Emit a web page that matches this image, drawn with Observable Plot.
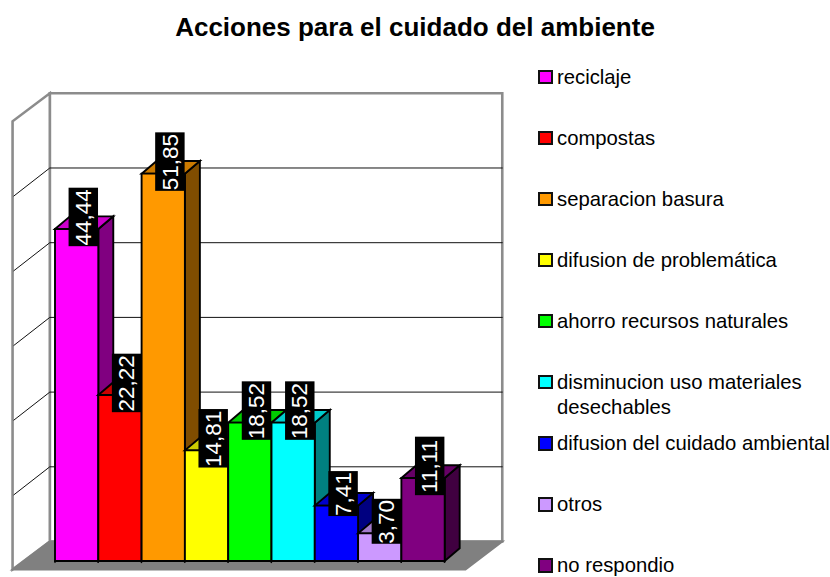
<!DOCTYPE html>
<html lang="es">
<head>
<meta charset="utf-8">
<script src="https://cdn.jsdelivr.net/npm/d3@7"></script>
<script src="https://cdn.jsdelivr.net/npm/@observablehq/plot@0.6"></script>
<style>
  html, body { margin: 0; padding: 0; background: #fff; overflow: hidden; width: 830px; height: 577px; }
  body { position: relative; font-family: "Liberation Sans", Arial, sans-serif; color: #000; }
  #title { position: absolute; left: 0; top: 12px; width: 830px; text-align: center; font-weight: bold; font-size: 26px; line-height: 30px; }
  #chart { position: absolute; left: 0; top: 60px; }
  #chart svg { display: block; }
  #legend { position: absolute; left: 538px; top: 64.5px; width: 292px; font-size: 20.3px; line-height: 25px; }
  .row { display: flex; align-items: flex-start; height: 61.1px; white-space: pre-line; }
  .row i { display: block; flex: none; box-sizing: border-box; width: 14.5px; height: 14.5px; border: 2.4px solid #111; margin: 5px 4.5px 0 0; }
  .row span { white-space: pre; }
</style>
</head>
<body>
<div id="title"></div>
<div id="chart"></div>
<div id="legend"></div>
<script>
const chartTitle = "Acciones para el cuidado del ambiente";
const categories = ["reciclaje", "compostas", "separacion basura", "difusion de problemática", "ahorro recursos naturales", "disminucion uso materiales\ndesechables", "difusion del cuidado ambiental", "otros", "no respondio"];
const values = [44.44, 22.22, 51.85, 14.81, 18.52, 18.52, 7.41, 3.70, 11.11];
const colors = ["#ff00ff", "#ff0000", "#ff9900", "#ffff00", "#00ff00", "#00ffff", "#0000ff", "#cc99ff", "#800080"];
const gridValues = [10, 20, 30, 40, 50];
const axisMax = 60;

// Oblique 3D box: offsets are in scale units (bar slots and percent)
const barDepth = {x: 0.346, y: 1.70};
const wall = {frontLeft: -0.98, backLeft: -0.12, backRight: 10.33, frontRight: 9.48, front: -1.14, back: 2.61};
const shade = (c, k) => { const r = d3.rgb(c); return d3.rgb(r.r * k, r.g * k, r.b * k).formatHex(); };

const polygon = (id, fill, stroke, pts) => pts.map(([x, y]) => ({id, fill, stroke, x, y}));
const wallFaces = [
  ...polygon("back", "#fff", "#8c8c8c", [[wall.backLeft, wall.back], [wall.backRight, wall.back], [wall.backRight, wall.back + axisMax], [wall.backLeft, wall.back + axisMax]]),
  ...polygon("left", "#fff", "#8c8c8c", [[wall.frontLeft, wall.front], [wall.backLeft, wall.back], [wall.backLeft, wall.back + axisMax], [wall.frontLeft, wall.front + axisMax]])
];
const floorFace = polygon("floor", "#808080", "#808080", [[wall.frontLeft, wall.front], [wall.backLeft, wall.back], [wall.backRight, wall.back], [wall.frontRight, wall.front]]);
const gridPaths = gridValues.flatMap(v => [
  {id: v, x: wall.frontLeft + 0.03, y: wall.front + v},
  {id: v, x: wall.backLeft, y: wall.back + v},
  {id: v, x: wall.backRight, y: wall.back + v}
]);
const barFaces = values.flatMap((v, i) => {
  const c = colors[i], dx = barDepth.x, dy = barDepth.y, b = "#000";
  return [
    ...polygon(`s${i}`, shade(c, 0.5), b, [[i + 1, 0], [i + 1 + dx, dy], [i + 1 + dx, v + dy], [i + 1, v]]),
    ...polygon(`t${i}`, shade(c, 0.8), b, [[i, v], [i + dx, v + dy], [i + 1 + dx, v + dy], [i + 1, v]]),
    ...polygon(`f${i}`, c, b, [[i, 0], [i + 1, 0], [i + 1, v], [i, v]])
  ];
});
const labels = values.map((v, i) => {
  const text = v.toFixed(2).replace(".", ",");
  return {text, x: i + 0.5 + 0.165, y: v + 1.55, h: text.length === 5 ? 7.83 : 6.02};
});
const xEdges = d3.range(values.length + 1);

const lineOpts = (w) => ({
  x: "x", y: "y", z: "id",
  fill: {value: d => d.fill, scale: null},
  stroke: {value: d => d.stroke, scale: null},
  curve: "linear-closed", strokeWidth: w, strokeLinejoin: "miter", strokeMiterlimit: 6
});

const chart = Plot.plot({
  width: 510, height: 517,
  marginTop: 0, marginRight: 0, marginBottom: 0, marginLeft: 0,
  x: {domain: [-1.2587, 10.52], range: [0, 510], axis: null},
  y: {domain: [-2.209, 67.0], range: [517, 0], axis: null},
  style: {background: "transparent"},
  marks: [
    Plot.line(wallFaces, lineOpts(2.6)),
    Plot.line(gridPaths, {x: "x", y: "y", z: "id", stroke: "#111", strokeWidth: 1}),
    Plot.line(floorFace, lineOpts(2)),
    Plot.ruleX(xEdges, {x: d => d, y1: -0.35, y2: 0, stroke: "#000", strokeWidth: 1.2}),
    Plot.line(barFaces, lineOpts(1.9)),
    Plot.rect(labels, {x1: d => d.x - 0.34, x2: d => d.x + 0.34, y1: d => d.y - d.h / 2, y2: d => d.y + d.h / 2, fill: "#000"}),
    Plot.text(labels, {x: "x", y: "y", text: "text", rotate: -90, fill: "#fff", fontSize: 22.5, fontFamily: "Liberation Sans, Arial, sans-serif", textAnchor: "middle", lineAnchor: "middle"})
  ]
});
document.getElementById("chart").append(chart);
document.getElementById("title").textContent = chartTitle;
const legend = d3.select("#legend").selectAll("div").data(categories).join("div").attr("class", "row");
legend.append("i").style("background", (d, i) => colors[i]);
legend.append("span").text(d => d);
</script>
</body>
</html>
